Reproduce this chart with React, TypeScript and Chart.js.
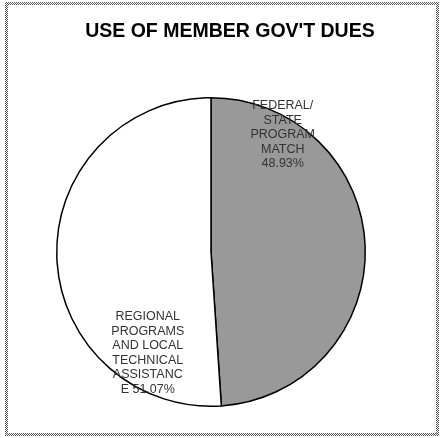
import React, { useEffect, useRef } from "react";
import { Chart, registerables } from "chart.js";

Chart.register(...registerables);

const TITLE = "USE OF MEMBER GOV'T DUES";
const CATEGORIES = ["FEDERAL/ STATE PROGRAM MATCH", "REGIONAL PROGRAMS AND LOCAL TECHNICAL ASSISTANCE"];
const VALUES = [48.93, 51.07];
const LABEL_LINES = [
  ["FEDERAL/", "STATE", "PROGRAM", "MATCH", "48.93%"],
  ["REGIONAL", "PROGRAMS", "AND LOCAL", "TECHNICAL", "ASSISTANC", "E 51.07%"],
];
const COLORS = ["#999999", "#ffffff"];
// label block centre, as a fraction of the radius, relative to pie centre
const LABEL_OFFSETS = [
  [0.465, -0.76],
  [-0.41, 0.655],
];

const FONT = "'Liberation Sans', Arial, sans-serif";

const labelPlugin = {
  id: "sliceLabels",
  afterDatasetsDraw(chart: any) {
    const ctx = chart.ctx;
    const meta = chart.getDatasetMeta(0);
    ctx.save();
    ctx.font = `12.5px ${FONT}`;
    ctx.fillStyle = "#333333";
    ctx.textAlign = "center";
    ctx.textBaseline = "middle";
    const lh = 14.5;
    meta.data.forEach((arc: any, i: number) => {
      const r = arc.outerRadius;
      const cx = arc.x + LABEL_OFFSETS[i][0] * r;
      const cy = arc.y + LABEL_OFFSETS[i][1] * r;
      const lines = LABEL_LINES[i];
      const top = cy - ((lines.length - 1) * lh) / 2;
      lines.forEach((ln, k) => ctx.fillText(ln, cx, top + k * lh));
    });
    ctx.restore();
  },
};

const titlePlugin = {
  id: "customTitle",
  afterDraw(chart: any) {
    const ctx = chart.ctx;
    ctx.save();
    ctx.font = `bold 19.5px ${FONT}`;
    ctx.fillStyle = "#000000";
    ctx.textAlign = "center";
    ctx.textBaseline = "middle";
    ctx.fillText(TITLE, chart.width * 0.519, 32);
    ctx.restore();
  },
};

const framePlugin = {
  id: "checkerFrame",
  beforeDraw(chart: any) {
    const ctx = chart.ctx;
    ctx.save();
    ctx.fillStyle = "#ffffff";
    ctx.fillRect(0, 0, chart.width, chart.height);
    ctx.fillStyle = "#555555";
    const L = 5, T = 2, R = chart.width - 4, B = chart.height - 2;
    const band = 3;
    const dot = (x: number, y: number) => {
      if ((x + y) % 2 === 0) ctx.fillRect(x, y, 1, 1);
    };
    for (let x = L; x < R; x++) {
      for (let k = 0; k < band; k++) {
        dot(x, T + k);
        dot(x, B - band + k);
      }
    }
    for (let y = T; y < B; y++) {
      for (let k = 0; k < band; k++) {
        dot(L + k, y);
        dot(R - band + k, y);
      }
    }
    ctx.restore();
  },
};

export default function App() {
  const ref = useRef<HTMLCanvasElement | null>(null);
  useEffect(() => {
    if (!ref.current) return;
    const chart = new Chart(ref.current, {
      type: "pie",
      data: {
        labels: CATEGORIES,
        datasets: [
          {
            data: VALUES,
            backgroundColor: COLORS,
            borderColor: "#000000",
            borderWidth: 1.5,
            hoverOffset: 0,
          },
        ],
      },
      options: {
        animation: false,
        responsive: false,
        events: [],
        layout: { padding: { left: 56, right: 77, top: 97, bottom: 31 } },
        plugins: {
          legend: { display: false },
          title: { display: false },
          tooltip: { enabled: false },
        },
      },
      plugins: [framePlugin, labelPlugin, titlePlugin],
    });
    return () => chart.destroy();
  }, []);

  return (
    <div style={{ position: "fixed", left: 0, top: 0, width: 443, height: 438, background: "#fff" }}>
      <canvas ref={ref} width={443} height={438} style={{ position: "absolute", left: 0, top: 0 }} />
    </div>
  );
}
